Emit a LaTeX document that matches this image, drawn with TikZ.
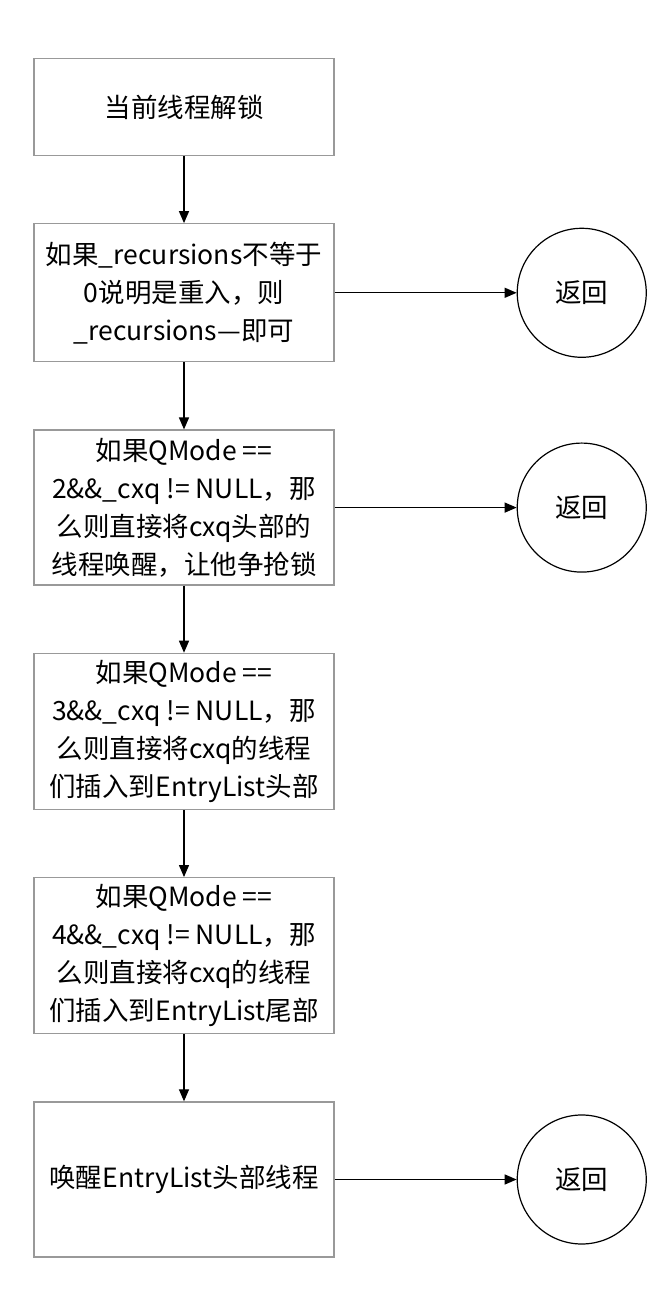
\documentclass[tikz,border=0pt]{standalone}
\usepackage{fontspec}
\setmainfont{Noto Sans CJK SC}
\usetikzlibrary{arrows.meta,positioning}

\begin{document}
\begin{tikzpicture}[
  x=1pt,y=1pt,
  node distance=67pt and 182pt,
  box/.style={draw=gray!80,line width=1.3pt,align=center,minimum width=300pt,
              inner sep=0pt,font=\fontsize{26.5}{38}\selectfont},
  ret/.style={draw,circle,line width=1.2pt,minimum size=129pt,inner sep=0pt,
              font=\fontsize{26.5}{30}\selectfont},
  arrow/.style={-{Triangle[length=12pt,width=10pt]},line width=1.3pt}
]
\useasboundingbox (0,0) rectangle (672,1304);
\node[box,minimum height=97pt] (unlock) at (184,1197) {当前线程解锁};
\node[box,minimum height=138pt,below=of unlock] (recur) {如果\_recursions不等于\\0说明是重入，则\\\_recursions—即可};
\node[box,minimum height=155pt,below=of recur] (mode2) {如果QMode ==\\2\&\&\_cxq != NULL，那\\么则直接将cxq头部的\\线程唤醒，让他争抢锁};
\node[box,minimum height=156pt,below=of mode2] (mode3) {如果QMode ==\\3\&\&\_cxq != NULL，那\\么则直接将cxq的线程\\们插入到EntryList头部};
\node[box,minimum height=156pt,below=of mode3] (mode4) {如果QMode ==\\4\&\&\_cxq != NULL，那\\么则直接将cxq的线程\\们插入到EntryList尾部};
\node[box,minimum height=155pt,below=of mode4] (wake) {唤醒EntryList头部线程};
\node[ret,right=of recur] (ret1) {返回};
\node[ret,right=of mode2] (ret2) {返回};
\node[ret,right=of wake] (ret3) {返回};
\draw[arrow] (unlock)--(recur);
\draw[arrow] (recur)--(mode2);
\draw[arrow] (mode2)--(mode3);
\draw[arrow] (mode3)--(mode4);
\draw[arrow] (mode4)--(wake);
\draw[arrow] (recur)--(ret1);
\draw[arrow] (mode2)--(ret2);
\draw[arrow] (wake)--(ret3);
\end{tikzpicture}
\end{document}
